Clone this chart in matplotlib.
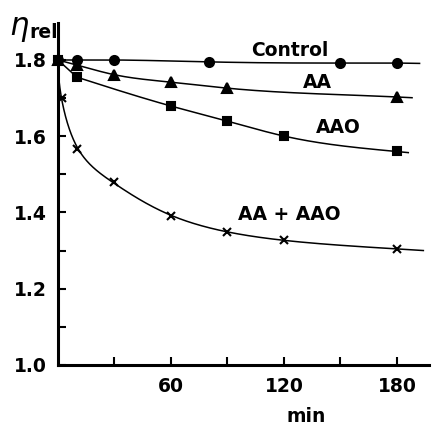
import numpy as np
import matplotlib
matplotlib.use("Agg")
import matplotlib.pyplot as plt

# time (min) and relative viscosity
control_t = [0, 10, 30, 80, 150, 180]
control_eta = [1.80, 1.80, 1.80, 1.795, 1.792, 1.792]
control_end = (192, 1.791)

aa_t = [0, 10, 30, 60, 90, 180]
aa_eta = [1.80, 1.787, 1.761, 1.742, 1.726, 1.703]
aa_end = (188, 1.701)

aao_t = [0, 10, 60, 90, 120, 180]
aao_eta = [1.80, 1.755, 1.679, 1.640, 1.600, 1.560]
aao_end = (186, 1.557)

mix_t = [0, 2, 10, 30, 60, 90, 120, 180]
mix_eta = [1.80, 1.70, 1.567, 1.480, 1.391, 1.349, 1.327, 1.305]
mix_end = (194, 1.300)

x_ticks = [30, 60, 90, 120, 150, 180]
x_labels = ["", "60", "", "120", "", "180"]
y_ticks = [1.0, 1.1, 1.2, 1.3, 1.4, 1.5, 1.6, 1.7, 1.8]
y_labels = ["1.0", "", "1.2", "", "1.4", "", "1.6", "", "1.8"]


def smooth_curve(x, y, xs, s):
    # penalised (Whittaker-type) smoother on a fine grid: a hand-drawn looking
    # line that runs near the read points; the first point is held fixed
    x = np.asarray(x, float)
    y = np.asarray(y, float)
    n = len(xs)
    h = (xs[-1] - xs[0]) / (n - 1)
    P = np.zeros((len(x), n))
    for i, xi in enumerate(x):
        j = min(int((xi - xs[0]) / h), n - 2)
        f = (xi - xs[j]) / h
        P[i, j] = 1 - f
        P[i, j + 1] = f
    w = np.ones(len(x))
    w[0] = 1000
    D = np.diff(np.eye(n), 2, axis=0)
    lam = s / h ** 3
    A = P.T @ (w[:, None] * P) + lam * D.T @ D
    return np.linalg.solve(A, P.T @ (w * y))


fig = plt.figure(figsize=(4.35, 4.25), dpi=100)
ax = fig.add_axes([58 / 435, 60 / 425, 371 / 435, 342 / 425])

# (times, values, curve end, marker, size, warp of the time axis, smoothing,
#  number of leading points joined by straight strokes)
series = [
    (control_t, control_eta, control_end, "o", 6.5, 1.0, 1e-5, 0),
    (aa_t, aa_eta, aa_end, "^", 7, 1.0, 1e-5, 0),
    (aao_t, aao_eta, aao_end, "s", 5.5, 1.0, 6e-5, 1),
    (mix_t, mix_eta, mix_end, "x", 6, 0.5, 8e-5, 0),
]
for t, eta, end, mk, ms, p, s, k in series:
    tt = np.array(list(t) + [end[0]], float)
    ee = np.array(list(eta) + [end[1]], float)
    if k:
        ax.plot(tt[:k + 1], ee[:k + 1], color="black", lw=1.1)
    t0 = tt[k]
    u = ((tt[k:] - t0) / (end[0] - t0)) ** p
    ug = np.linspace(0, 1, 500)
    yg = smooth_curve(u, ee[k:], ug, s)
    ax.plot(t0 + (end[0] - t0) * ug ** (1 / p), yg, color="black", lw=1.1, clip_on=False)
    ax.plot(t, eta, mk, color="black", ms=ms, mew=1.5, clip_on=False)

font = dict(fontsize=13.5, fontweight="bold", family="DejaVu Sans")
ax.text(123, 1.826, "Control", ha="center", va="center", **font)
ax.text(138, 1.740, "AA", ha="center", va="center", **font)
ax.text(149, 1.624, "AAO", ha="center", va="center", **font)
ax.text(123, 1.394, "AA + AAO", ha="center", va="center", **font)
ax.text(132, 0.865, "min", ha="center", va="center", clip_on=False, **font)

fig.text(9 / 435, 1 - 35 / 425, r"$\eta$", fontsize=22, ha="left", va="baseline")
fig.text(29 / 435, 1 - 38 / 425, "rel", ha="left", va="baseline", **font)

ax.set_xlim(0, 197)
ax.set_ylim(1.0, 1.897)
ax.set_xticks(x_ticks)
ax.set_xticklabels(x_labels, **font)
ax.set_yticks(y_ticks)
ax.set_yticklabels(y_labels, **font)
ax.tick_params(direction="in", length=6, width=1.5, pad=8)
ax.tick_params(axis="x", pad=9)

for side in ["top", "right"]:
    ax.spines[side].set_visible(False)
for side in ["left", "bottom"]:
    ax.spines[side].set_linewidth(2.2)

fig.savefig("out.png", dpi=100)
